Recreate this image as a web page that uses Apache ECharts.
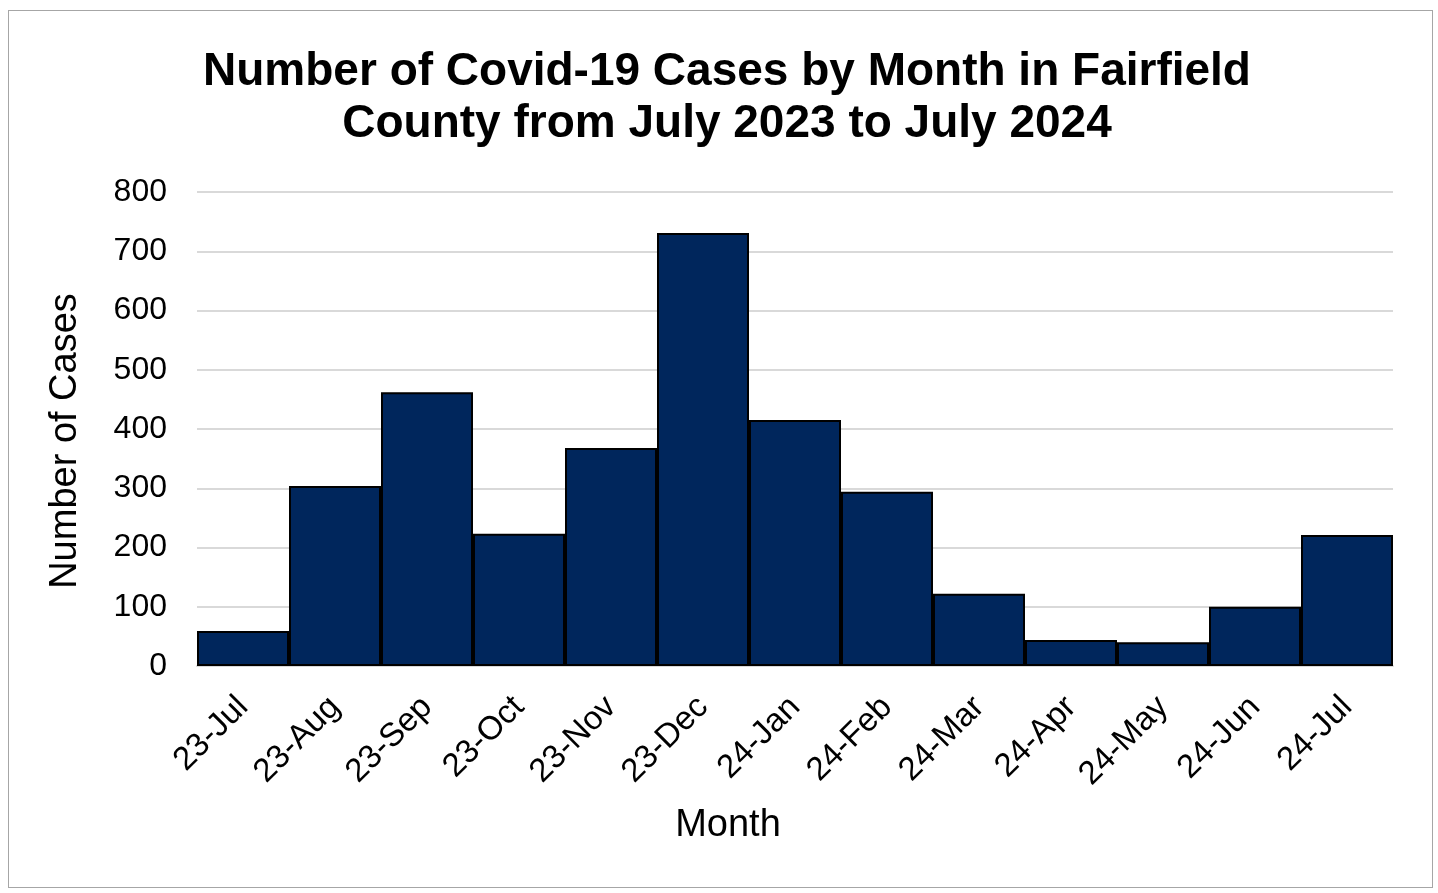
<!DOCTYPE html>
<html><head><meta charset="utf-8">
<script src="https://cdn.jsdelivr.net/npm/echarts@6/dist/echarts.min.js"></script>
<style>html,body{margin:0;padding:0;background:#fff}#frame{position:absolute;left:8px;top:10px;width:1425px;height:878px;border:1.5px solid #a6a6a6;box-sizing:border-box}#c{position:absolute;left:0;top:0;width:1438px;height:893px}</style>
</head><body><div id="frame"></div><div id="c"></div>
<script>
const categories = ['23-Jul','23-Aug','23-Sep','23-Oct','23-Nov','23-Dec','24-Jan','24-Feb','24-Mar','24-Apr','24-May','24-Jun','24-Jul'];
const cases = [59, 304, 462, 223, 368, 731, 415, 294, 122, 44, 40, 100, 221];
const yTicks = {min: 0, max: 800, interval: 100};
const chart = echarts.init(document.getElementById('c'));
const font = '"Liberation Sans", Arial, sans-serif';
chart.setOption({
  animation: false,
  title: {
    text: 'Number of Covid-19 Cases by Month in Fairfield\nCounty from July 2023 to July 2024',
    left: 722, top: 41, textAlign: 'center',
    textStyle: {fontFamily: font, fontWeight: 'bold', fontSize: 46, lineHeight: 52, color: '#000'}
  },
  grid: {left: 197, right: 45, top: 192, bottom: 227, containLabel: false},
  graphic: [
    {type: 'text', x: 728, y: 826, style: {text: 'Month', fontFamily: font, fontSize: 38, fill: '#000', textAlign: 'center', textVerticalAlign: 'middle'}},
    {type: 'text', x: 66, y: 441, rotation: Math.PI / 2, style: {text: 'Number of Cases', fontFamily: font, fontSize: 38, fill: '#000', textAlign: 'center', textVerticalAlign: 'middle'}}
  ],
  xAxis: {
    type: 'category', data: categories,
    axisLine: {lineStyle: {color: '#d9d9d9', width: 2}},
    axisTick: {show: false},
    axisLabel: {rotate: 45, fontFamily: font, fontSize: 33, color: '#000', margin: 36, interval: 0}
  },
  yAxis: {
    type: 'value', min: yTicks.min, max: yTicks.max, interval: yTicks.interval,
    axisLine: {show: false}, axisTick: {show: false},
    axisLabel: {fontFamily: font, fontSize: 32, color: '#000', margin: 30},
    splitLine: {lineStyle: {color: '#d9d9d9', width: 2}}
  },
  series: [{
    type: 'bar', data: cases, barCategoryGap: '0%',
    itemStyle: {color: '#00265c', borderColor: '#000', borderWidth: 2}
  }]
});
</script></body></html>
